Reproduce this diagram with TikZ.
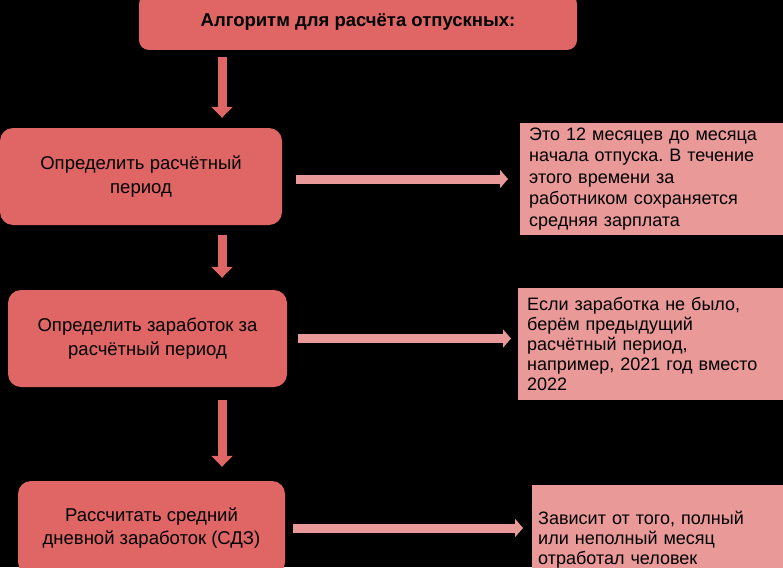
\documentclass[tikz,border=0pt]{standalone}
\usepackage{fontspec}
\setmainfont{Liberation Sans}
\usetikzlibrary{arrows.meta}
\frenchspacing
\definecolor{boxred}{HTML}{E06666}
\definecolor{notered}{HTML}{EA9999}
\tikzset{
  titlebox/.style={fill=boxred, rounded corners=10pt, inner sep=0pt,
    font=\bfseries\fontsize{18.5}{22}\selectfont},
  stepbox/.style={fill=boxred, rounded corners=13pt, inner sep=0pt, align=center,
    font=\fontsize{18.5}{23.5}\selectfont},
  notebox/.style={fill=notered, anchor=west, align=left, inner xsep=9pt, inner ysep=0pt,
    font=\fontsize{18}{21.5}\selectfont},
  vflow/.style={draw=boxred, line width=9pt, -{Triangle[width=21pt,length=11pt]}},
  hflow/.style={draw=notered, line width=9pt, -{Triangle[width=18pt,length=8pt]}},
}
\begin{document}
\begin{tikzpicture}[x=1pt,y=-1pt]
    \useasboundingbox (0,0) rectangle (783,567);
    \clip (0,0) rectangle (783,567);
    \fill[black] (0,0) rectangle (783,567);
    % colonne de gauche
    \node[titlebox, minimum width=438pt, minimum height=56pt] (algo) at (358,22) {Алгоритм для расчёта отпускных:};
    \node[stepbox, minimum width=282pt, minimum height=97pt] (period) at (141,176.5) {Определить расчётный\\период};
    \node[stepbox, minimum width=279pt, minimum height=97pt] (earn) at (147.5,338.5) {Определить заработок за\\расчётный период};
    \node[stepbox, minimum width=267pt, minimum height=94pt] (sdz) at (151.5,528) {Рассчитать средний\\дневной заработок (СДЗ)};
    % notes à droite
    \node[notebox, text width=250pt, minimum height=112pt] (noteperiod) at (520,179) {Это 12 месяцев до месяца\\начала отпуска. В течение\\этого времени за\\работником сохраняется\\средняя зарплата};
    \node[notebox, text width=250pt, minimum height=112pt, font=\fontsize{18}{20}\selectfont] (noteearn) at (518,344) {Если заработка не было,\\берём предыдущий\\расчётный период,\\например, 2021 год вместо\\2022};
    \node[notebox, text width=240pt, inner xsep=6pt, minimum height=109pt, font=\fontsize{18}{20}\selectfont] (notesdz) at (532,539.5) {Зависит от того, полный\\или неполный месяц\\отработал человек};
    % flèches
    \coordinate (axis) at (222,0);
    \draw[vflow, shorten <=7pt, shorten >=10pt] (algo.south -| axis) -- (period.north -| axis);
    \draw[vflow, shorten <=10pt, shorten >=12pt] (period.south -| axis) -- (earn.north -| axis);
    \draw[vflow, shorten <=13pt, shorten >=14pt] (earn.south -| axis) -- (sdz.north -| axis);
    \draw[hflow, shorten <=14pt, shorten >=12pt] (period.east |- noteperiod.west) -- (noteperiod.west);
    \draw[hflow, shorten <=11pt, shorten >=7pt] (earn.east) -- (earn.east -| noteearn.west);
    \draw[hflow, shorten <=8pt, shorten >=9pt] (sdz.east) -- (sdz.east -| notesdz.west);
\end{tikzpicture}
\end{document}
